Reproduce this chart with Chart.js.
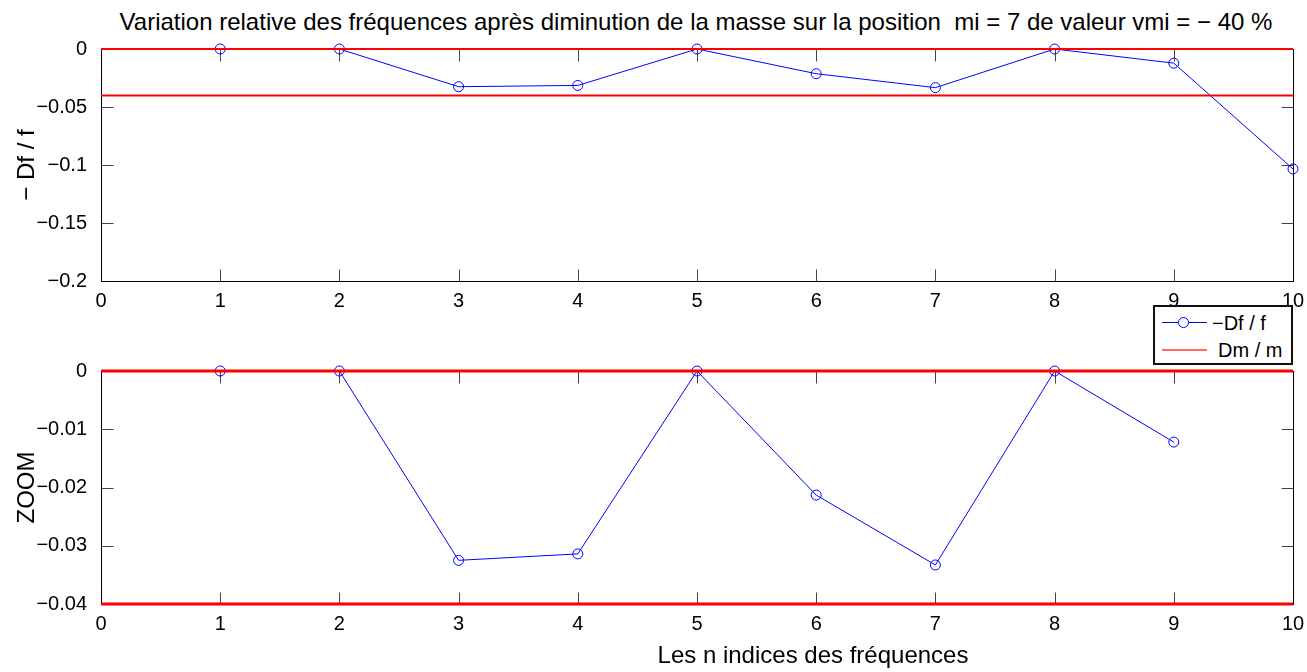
<!DOCTYPE html>
<html>
<head>
<meta charset="utf-8">
<script src="https://cdn.jsdelivr.net/npm/chart.js@4.4.1/dist/chart.umd.min.js"></script>
<style>
  body { margin: 0; background: #fff; font-family: "Liberation Sans", Arial, sans-serif; }
  #fig { position: relative; width: 1307px; height: 672px; overflow: hidden; background: #fff; }
  #top, #zoom { position: absolute; left: 0; }
  #top { top: 0; }
  #zoom { top: 308px; }
  .txt { position: absolute; color: #000; white-space: pre; font-size: 24px; line-height: 28px; }
  #title { left: 0; width: 1392px; top: 8px; text-align: center; }
  #xlabel { left: 0; width: 1626px; top: 641px; text-align: center; }
  #legend {
    position: absolute; left: 1153px; top: 305px; width: 140px; height: 60px;
    box-sizing: border-box; border: 2px solid #111; background: #fff; z-index: 5;
  }
  #legend .row { position: absolute; left: 0; height: 22px; width: 100%; }
  #legend .sample { position: absolute; left: 7px; top: 10px; width: 45px; height: 0; }
  #legend .mark {
    position: absolute; left: 16px; top: -6px; width: 9px; height: 9px;
    border: 1px solid #00f; border-radius: 50%; background: #fff;
  }
  #legend .lbl { position: absolute; top: 0; font-size: 20px; line-height: 22px; }
</style>
</head>
<body>
<div id="fig">
  <div id="title" class="txt">Variation relative des fréquences après diminution de la masse sur la position  mi = 7 de valeur vmi = − 40 %</div>
  <canvas id="top" width="1307" height="308"></canvas>
  <canvas id="zoom" width="1307" height="364"></canvas>
  <div id="legend"></div>
  <div id="xlabel" class="txt">Les n indices des fréquences</div>
</div>
<script>
// frequency indices and relative frequency shift -Df/f
const indices = [1, 2, 3, 4, 5, 6, 7, 8, 9, 10];
const dfValues = [0, 0, -0.0325, -0.0314, 0, -0.0213, -0.0333, 0, -0.0122, -0.1034];
// relative mass change Dm/m and the reference levels drawn in red
const dmOverM = -0.04;
const refLevels = [0, dmOverM];
const seriesNames = ['\u2212Df / f', 'Dm / m'];
// axis ranges
const xRange = [0, 10];
const topRange = [-0.2, 0];
const topStep = 0.05;
const zoomRange = [-0.04, 0];
const zoomStep = 0.01;
// the zoomed panel only shows the first nine frequencies
const zoomCount = 9;

const FAMILY = '"Liberation Sans", Arial, sans-serif';
const TICK_FONT = { family: FAMILY, size: 20 };
const LABEL_FONT = { family: FAMILY, size: 24 };

function fmt(v) {
  v = parseFloat(v.toFixed(4));
  return v === 0 ? '0' : (v < 0 ? '\u2212' : '') + Math.abs(v);
}

// box around the plot area plus inward ticks on all four sides
const boxPlugin = {
  id: 'boxPlugin',
  beforeDatasetsDraw(chart) {
    const { ctx, chartArea: a, scales: { x, y } } = chart;
    const L = Math.round(a.left) + 0.5, R = Math.round(a.right) + 0.5;
    const T = Math.round(a.top) + 0.5, B = Math.round(a.bottom) + 0.5;
    const len = 12;
    ctx.save();
    ctx.lineWidth = 1;
    ctx.strokeStyle = '#444';
    ctx.beginPath();
    x.ticks.forEach(t => {
      const px = Math.round(x.getPixelForValue(t.value)) + 0.5;
      ctx.moveTo(px, B); ctx.lineTo(px, B - len);
      ctx.moveTo(px, T); ctx.lineTo(px, T + len);
    });
    y.ticks.forEach(t => {
      const py = Math.round(y.getPixelForValue(t.value)) + 0.5;
      ctx.moveTo(L, py); ctx.lineTo(L + len, py);
      ctx.moveTo(R, py); ctx.lineTo(R - len, py);
    });
    ctx.stroke();
    ctx.strokeStyle = '#000';
    ctx.strokeRect(L, T, R - L, B - T);
    ctx.restore();
  }
};

function makeChart(id, opts) {
  const n = opts.count;
  const blue = {
    label: seriesNames[0],
    data: indices.slice(0, n).map((x, i) => ({ x, y: dfValues[i] })),
    borderColor: '#0000ff',
    backgroundColor: 'rgba(0,0,0,0)',
    borderWidth: 1,
    pointRadius: 5,
    pointBorderWidth: 1,
    pointStyle: 'circle',
    clip: false,
    order: 2
  };
  const reds = refLevels.map(lv => ({
    label: seriesNames[1],
    data: [{ x: xRange[0], y: lv }, { x: xRange[1], y: lv }],
    borderColor: '#ff0000',
    borderWidth: opts.redWidth,
    pointRadius: 0,
    clip: 2,
    order: 1
  }));
  return new Chart(document.getElementById(id), {
    type: 'line',
    data: { datasets: [blue, ...reds] },
    options: {
      responsive: false,
      animation: false,
      layout: { padding: { top: opts.top, right: 14, left: 0, bottom: 0 } },
      plugins: { legend: { display: false }, tooltip: { enabled: false } },
      scales: {
        x: {
          type: 'linear',
          min: xRange[0], max: xRange[1],
          grid: { display: false },
          border: { display: false },
          ticks: { stepSize: 1, color: '#000', font: TICK_FONT, padding: 0, maxRotation: 0,
                   callback: v => String(v) },
          afterFit: s => { s.height = opts.xh; }
        },
        y: {
          min: opts.range[0], max: opts.range[1],
          grid: { display: false },
          border: { display: false },
          ticks: { stepSize: opts.step, color: '#000', font: TICK_FONT, padding: 6,
                   callback: v => fmt(v) },
          title: { display: true, text: opts.ylabel, color: '#000', font: LABEL_FONT,
                   padding: { top: 13, bottom: 0 } },
          afterFit: s => { s.width = 101; }
        }
      }
    },
    plugins: [boxPlugin]
  });
}

const topChart = makeChart('top', {
  count: indices.length, top: 49, xh: 27, redWidth: 2,
  range: topRange, step: topStep, ylabel: '\u2212 Df / f'
});
const zoomChart = makeChart('zoom', {
  count: zoomCount, top: 63, xh: 68, redWidth: 3,
  range: zoomRange, step: zoomStep, ylabel: 'ZOOM'
});

// legend built from the dataset labels and colours
const legend = document.getElementById('legend');
const ds = topChart.data.datasets;
const legendRows = [
  { set: ds[0], top: 5, textLeft: 57, line: '1px solid #0000ff', marker: true },
  { set: ds[1], top: 32, textLeft: 63, line: '2px solid #ff6a6a', marker: false }
];
legendRows.forEach(r => {
  const row = document.createElement('div');
  row.className = 'row';
  row.style.top = r.top + 'px';
  const sample = document.createElement('div');
  sample.className = 'sample';
  sample.style.borderTop = r.line;
  if (r.marker) {
    const m = document.createElement('div');
    m.className = 'mark';
    sample.appendChild(m);
  }
  const lbl = document.createElement('div');
  lbl.className = 'lbl';
  lbl.style.left = r.textLeft + 'px';
  lbl.textContent = r.set.label;
  row.appendChild(sample);
  row.appendChild(lbl);
  legend.appendChild(row);
});
</script>
</body>
</html>
